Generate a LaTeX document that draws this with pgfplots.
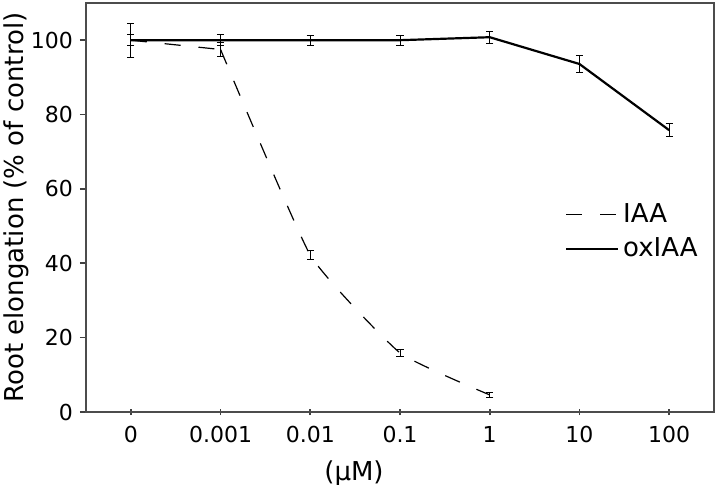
\documentclass[border=0pt]{standalone}
\usepackage{fontspec}
\setmainfont{DejaVu Sans}
\usepackage{pgfplots}
\pgfplotsset{compat=1.18}
\usepackage{pgfplotstable}
\pgfplotstableread{
x y e
0 100 4.6
1 97.5 1.9
}\iaaA
\pgfplotstableread{
x y e
1 97.5 1.9
2 42.2 1.3
3 15.9 1.0
4 4.6 0.7
}\iaaB
\pgfplotstableread{
x y e
0 100 1.5
1 100 1.5
2 100 1.3
3 100 1.3
4 100.8 1.6
5 93.6 2.3
6 75.8 1.7
}\oxiaa
\begin{document}
\begin{tikzpicture}
\begin{axis}[
  scale only axis,
  width=314pt, height=204.5pt,
  xmin=-0.5, xmax=6.5, ymin=0, ymax=110,
  xtick={0,1,2,3,4,5,6},
  xticklabels={0,0.001,0.01,0.1,1,10,100},
  ytick={0,20,40,60,80,100},
  xtick pos=bottom, ytick pos=left,
  x tick style={line width=0.8pt, color=black!75},
  y tick style={line width=0.8pt, color=black!75},
  xtick align=center, ytick align=outside,
  major tick length=3pt,
  axis line style={line width=0.8pt, color=black!70},
  tick label style={font=\fontsize{11}{13}\selectfont},
  xticklabel style={yshift=-2pt},
  /pgf/number format/assume math mode=true,
  xlabel={(μM)},
  ylabel={Root elongation (\% of control)},
  label style={font=\fontsize{13}{15}\selectfont},
  xlabel style={xshift=-23pt, yshift=-2pt},
  ylabel style={yshift=-6pt},
  legend style={draw=none, fill=none, at={(0.762,0.52)}, anchor=north west, inner sep=0pt, font=\fontsize{13}{15}\selectfont, row sep=2pt},
  legend cell align=left,
  legend image code/.code={\draw[#1] (0pt,0pt) -- (26pt,0pt);},
]
\addplot[black, line width=0.6pt, dash pattern=on 8pt off 9pt, smooth, tension=0.25,
  error bars/.cd, y dir=both, y explicit,
  error bar style={solid, line width=0.5pt},
  error mark options={rotate=90, mark size=1.8pt, solid, line width=0.5pt}]
  table[x=x, y=y, y error=e]{\iaaB};
\addlegendentry{IAA}
\addplot[black, line width=1.1pt,
  error bars/.cd, y dir=both, y explicit,
  error bar style={line width=0.5pt},
  error mark options={rotate=90, mark size=1.8pt, line width=0.5pt}]
  table[x=x, y=y, y error=e]{\oxiaa};
\addlegendentry{oxIAA}
\addplot[black, line width=0.6pt, dash pattern=on 8pt off 9pt, forget plot,
  error bars/.cd, y dir=both, y explicit,
  error bar style={solid, line width=0.5pt},
  error mark options={rotate=90, mark size=1.8pt, solid, line width=0.5pt}]
  table[x=x, y=y, y error=e]{\iaaA};
\end{axis}
\pgfresetboundingbox
\path[use as bounding box] ([xshift=-43pt,yshift=-36pt]current axis.south west) rectangle ([xshift=2pt,yshift=1.5pt]current axis.north east);
\end{tikzpicture}
\end{document}
